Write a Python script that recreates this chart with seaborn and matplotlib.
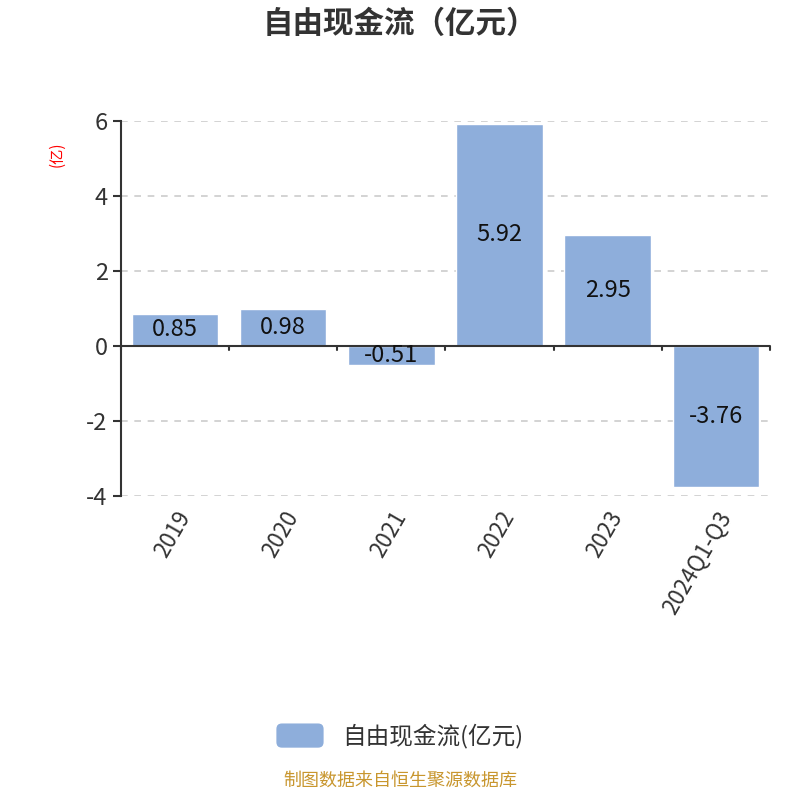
import matplotlib
matplotlib.use("Agg")
import numpy as np
import pandas as pd
import seaborn as sns
from matplotlib import pyplot as plt
from matplotlib.patches import FancyBboxPatch
from matplotlib.legend_handler import HandlerPatch

years = ["2019", "2020", "2021", "2022", "2023", "2024Q1-Q3"]
values = [0.85, 0.98, -0.51, 5.92, 2.95, -3.76]
labels = ["0.85", "0.98", "-0.51", "5.92", "2.95", "-3.76"]

sns.set_style("white")
plt.rcParams["font.family"] = ["Noto Sans CJK SC", "DejaVu Sans"]
plt.rcParams["axes.unicode_minus"] = False

bar_color = "#8eaedb"
df = pd.DataFrame({"year": years, "value": values})

fig = plt.figure(figsize=(8, 8), dpi=100)
ax = fig.add_axes([0.151, 0.38, 0.8115, 0.469])
sns.barplot(data=df, x="year", y="value", color=bar_color, width=0.8,
            saturation=1, ax=ax)

ax.set_ylim(-4, 6)
ax.set_xlim(-0.5, 5.5)
ax.set_yticks([-4, -2, 0, 2, 4, 6])
ax.yaxis.grid(True, linestyle=(0, (4, 4)), color="#cccccc", linewidth=1.2)
ax.set_axisbelow(True)

for s in ["top", "right", "bottom"]:
    ax.spines[s].set_visible(False)
ax.spines["left"].set_color("#333333")
ax.spines["left"].set_linewidth(1.5)
ax.axhline(0, color="#333333", linewidth=1.5, zorder=3)

# category ticks on the zero line at band edges
for b in np.arange(-0.5, 6.0, 1.0):
    ax.plot([b, b], [0, -0.12], color="#333333", linewidth=1.5, zorder=3,
            clip_on=False)

ax.tick_params(axis="y", length=6, width=1.5, color="#333333",
               labelsize=17, labelcolor="#333333", left=True)
ax.tick_params(axis="x", length=0, labelsize=16, labelcolor="#333333", pad=8)
ax.set_xticks(range(len(years)))
ax.set_xticklabels(years, rotation=60, ha="right", rotation_mode="anchor")
ax.set_xlabel("")
ax.set_ylabel("(亿)", color="red", fontsize=11)
ax.yaxis.set_label_coords(-0.085, 0.91)

for i, (v, t) in enumerate(zip(values, labels)):
    ax.text(i, v / 2, t, ha="center", va="center", fontsize=17,
            color="#111111", zorder=4)

fig.text(0.5, 0.97, "自由现金流（亿元）", ha="center", va="center",
         fontsize=22, fontweight="bold", color="#333333")


class RoundHandler(HandlerPatch):
    def create_artists(self, legend, orig_handle, xdescent, ydescent,
                       width, height, fontsize, trans):
        p = FancyBboxPatch((-xdescent, -ydescent), width, height,
                           boxstyle="round,pad=0,rounding_size=4",
                           facecolor=bar_color, edgecolor="none",
                           transform=trans)
        return [p]


handle = FancyBboxPatch((0, 0), 1, 1, facecolor=bar_color, edgecolor="none")
fig.legend([handle], ["自由现金流(亿元)"], loc="center", bbox_to_anchor=(0.5, 0.08),
           frameon=False, fontsize=17, handlelength=2.0, handleheight=1.2,
           labelcolor="#333333", handler_map={FancyBboxPatch: RoundHandler()})

fig.text(0.5, 0.024, "制图数据来自恒生聚源数据库", ha="center", va="center",
         fontsize=13, color="#c8962e")

fig.savefig("out.png", dpi=100)
